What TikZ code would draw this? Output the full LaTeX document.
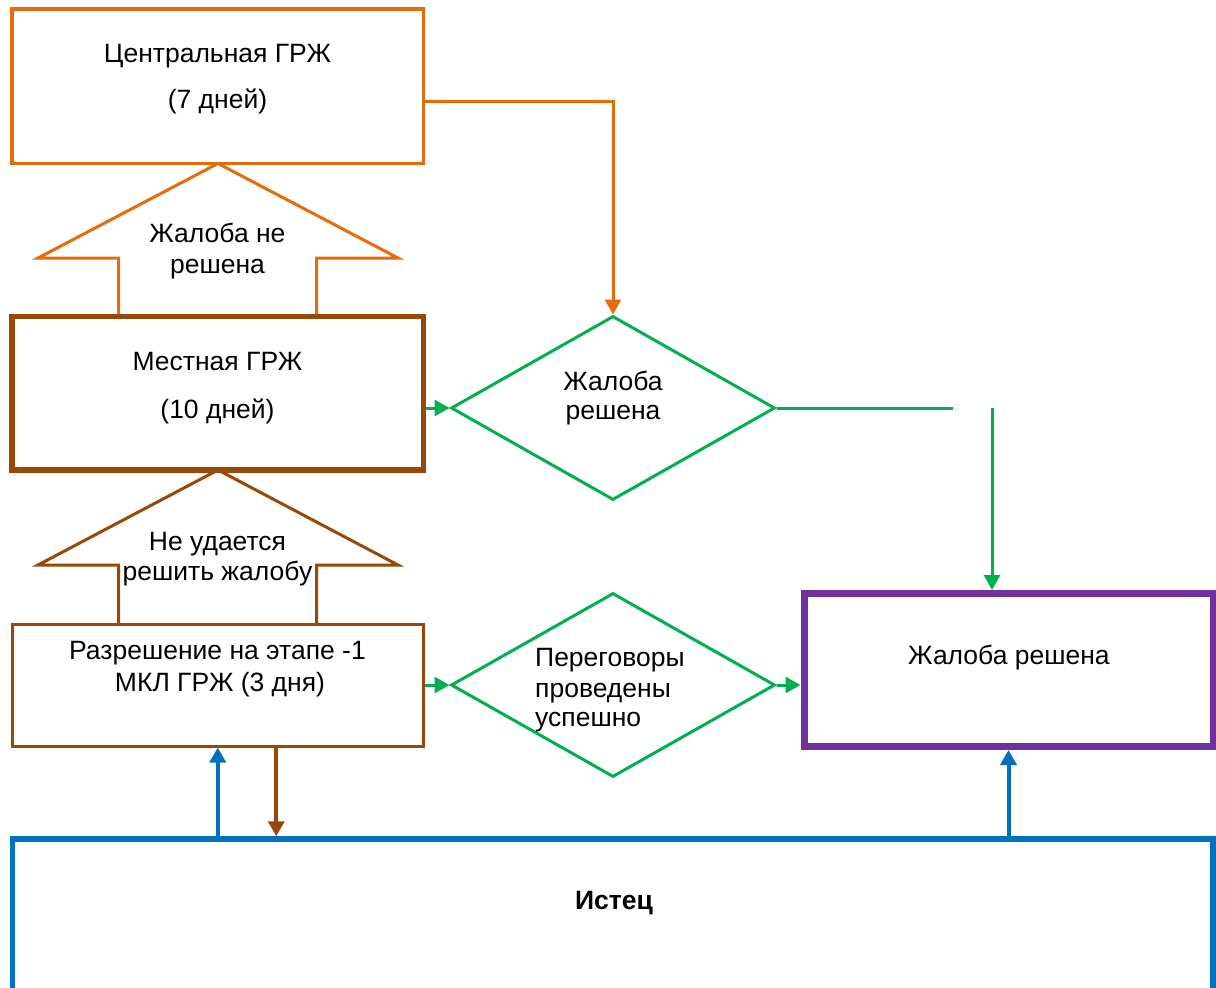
\documentclass[tikz,border=0pt]{standalone}
\usepackage{fontspec}
\setmainfont{Liberation Sans}
\usetikzlibrary{arrows.meta,shapes.geometric,calc}
\definecolor{corange}{HTML}{E46C0A}
\definecolor{cbrown}{HTML}{984807}
\definecolor{cgreen}{HTML}{00B050}
\definecolor{cpurple}{HTML}{7030A0}
\definecolor{cblue}{HTML}{0070C0}
\begin{document}
\begin{tikzpicture}[x=1pt,y=-1pt,
  txt/.style={font=\fontsize{26.5}{30}\selectfont, inner sep=0pt, anchor=base},
  boxnode/.style={draw, rectangle, inner sep=0pt},
  diam/.style={draw=cgreen, line width=3pt, shape=diamond, minimum width=324pt, minimum height=184pt, inner sep=0pt},
  tipped/.style={-{Triangle[length=15pt,width=16pt]}},
  blockarrow/.style={line width=3pt, miter limit=10},
  gline/.style={cgreen, line width=3pt},
]
\useasboundingbox (0,0) rectangle (1216,988);

% block arrows
\draw[blockarrow, corange] (118.5,316) -- (118.5,258) -- (38,258) -- (218,163.5) -- (398,258) -- (316.5,258) -- (316.5,316);
\draw[blockarrow, cbrown] (118.5,624) -- (118.5,565) -- (38,565) -- (218,470) -- (398,565) -- (316.5,565) -- (316.5,624);

% boxes
\node[boxnode, draw=corange, line width=3.5pt, minimum width=411.5pt, minimum height=154.5pt] (central) at (217.75,86.25) {};
\node[boxnode, draw=cbrown, line width=5.5pt, minimum width=411.5pt, minimum height=153.5pt] (local) at (217.75,393.25) {};
\node[boxnode, draw=cbrown, line width=3pt, minimum width=411.5pt, minimum height=122pt] (stage) at (217.75,685) {};
\node[boxnode, draw=cpurple, line width=7pt, minimum width=409pt, minimum height=153pt] (solved) at (1008.5,670) {};
\node[boxnode, draw=cblue, line width=5.5pt, minimum width=1200.5pt, minimum height=211pt] (plaintiff) at (612.75,944.5) {};
\node[diam] (d1) at (613,408) {};
\node[diam] (d2) at (613,685) {};

% texts
\node[txt] (t1) at (217.5,62) {Центральная ГРЖ};
\node[txt] (t2) at (217.5,108) {(7 дней)};
\node[txt] (t3) at (217.5,242) {Жалоба не};
\node[txt] (t4) at (217.5,273) {решена};
\node[txt] (t5) at (217.5,370) {Местная ГРЖ};
\node[txt] (t6) at (217.5,418) {(10 дней)};
\node[txt] (t7) at (217.5,550) {Не удается};
\node[txt] (t8) at (217.5,580) {решить жалобу};
\node[txt] (t9) at (217.5,659) {Разрешение на этапе -1};
\node[txt] (t10) at (220,691) {МКЛ ГРЖ (3 дня)};
\node[txt] (t11) at (613,390) {Жалоба};
\node[txt] (t12) at (613,419) {решена};
\node[txt, anchor=base west] (t13) at (535,666) {Переговоры};
\node[txt, anchor=base west] (t14) at (535,697) {проведены};
\node[txt, anchor=base west] (t15) at (535,726) {успешно};
\node[txt] (t16) at (1009,664) {Жалоба решена};
\node[txt, font=\fontsize{26.5}{30}\selectfont\bfseries] (t17) at (614,909) {Истец};

% connectors
\coordinate (o1) at (423.5,101.5);
\draw[corange, line width=3pt, tipped] (o1) -| (d1.north);
\draw[gline, tipped] (local.east |- d1.west) -- (d1.west);
\coordinate (g1) at (953,408);
\coordinate (g2) at (992,408);
\draw[gline] (d1.east) -- (d1.east -| g1);
\draw[gline, tipped] (g2) -- (g2 |- solved.north);
\draw[gline, tipped] (stage.east |- d2.west) -- (d2.west);
\draw[gline, tipped] (d2.east) -- (solved.west |- d2.east);
\coordinate (bx) at ($(stage.south)+(58.5,0)$);
\draw[cblue, line width=4pt, tipped] (stage.south |- plaintiff.north) -- (stage.south);
\draw[cbrown, line width=4pt, tipped] (bx) -- (bx |- plaintiff.north);
\draw[cblue, line width=4pt, tipped] (solved.south |- plaintiff.north) -- (solved.south);
\end{tikzpicture}
\end{document}
